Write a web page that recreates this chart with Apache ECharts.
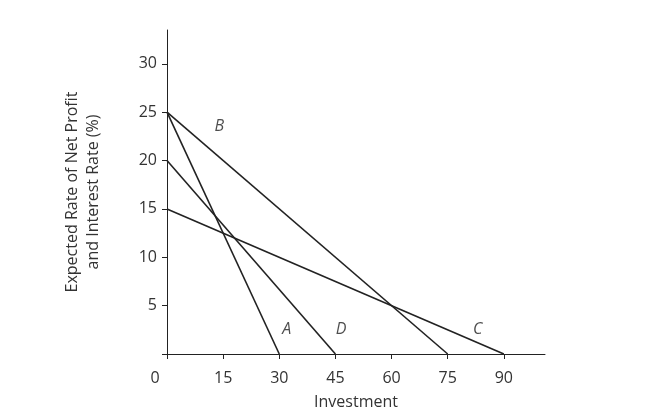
<!DOCTYPE html>
<html><head><meta charset="utf-8">
<script src="https://cdn.jsdelivr.net/npm/echarts@6/dist/echarts.min.js"></script>
<style>html,body{margin:0;padding:0;background:#fff}#c{width:653px;height:415px}</style>
</head><body><div id="c"></div>
<script>
const lineA = [[0,25],[30,0]];
const lineB = [[0,25],[75,0]];
const lineC = [[0,15],[90,0]];
const lineD = [[0,20],[45,0]];
const labelPts = [[14,23.5,'B'],[32,2.5,'A'],[46.5,2.5,'D'],[83,2.5,'C']];
const chart = echarts.init(document.getElementById('c'));
const ls = {color:'#222',width:1.6};
function mk(d){return {type:'line',data:d,symbol:'none',lineStyle:ls,color:'#222',silent:true};}
chart.setOption({
  animation:false,
  grid:{left:167,right:108,top:30,bottom:60},
  xAxis:{type:'value',min:0,max:101,interval:15,name:'Investment',nameLocation:'middle',nameGap:40,
    nameTextStyle:{fontSize:16,color:'#333',fontFamily:'Open Sans'},
    axisLine:{lineStyle:{color:'#222'}},axisTick:{inside:false,length:5,lineStyle:{color:'#222'}},splitLine:{show:false},
    axisLabel:{showMaxLabel:false,fontSize:16,color:'#333',fontFamily:'Open Sans',margin:16,
      formatter:v=>v===0?'{z|0}':String(v),rich:{z:{fontSize:16,color:'#333',padding:[0,24,0,0]}}}},
  yAxis:{type:'value',min:0,max:33.5,interval:5,name:'Expected Rate of Net Profit\nand Interest Rate (%)',nameLocation:'middle',nameGap:63,
    nameTextStyle:{fontSize:16,color:'#333',fontFamily:'Open Sans',lineHeight:21},
    axisLine:{show:true,lineStyle:{color:'#222'}},axisTick:{show:true,length:5,lineStyle:{color:'#222'}},splitLine:{show:false},
    axisLabel:{showMaxLabel:false,fontSize:16,color:'#333',fontFamily:'Open Sans',margin:10,formatter:v=>v===0?'':String(v)}},
  series:[mk(lineA),mk(lineB),mk(lineC),mk(lineD),
    {type:'scatter',symbolSize:0,data:labelPts.map(p=>({value:[p[0],p[1]],name:p[2]})),
     label:{show:true,position:'inside',formatter:p=>p.name,fontSize:16,fontStyle:'italic',color:'#222',fontFamily:'Open Sans'}}]
});
</script></body></html>
